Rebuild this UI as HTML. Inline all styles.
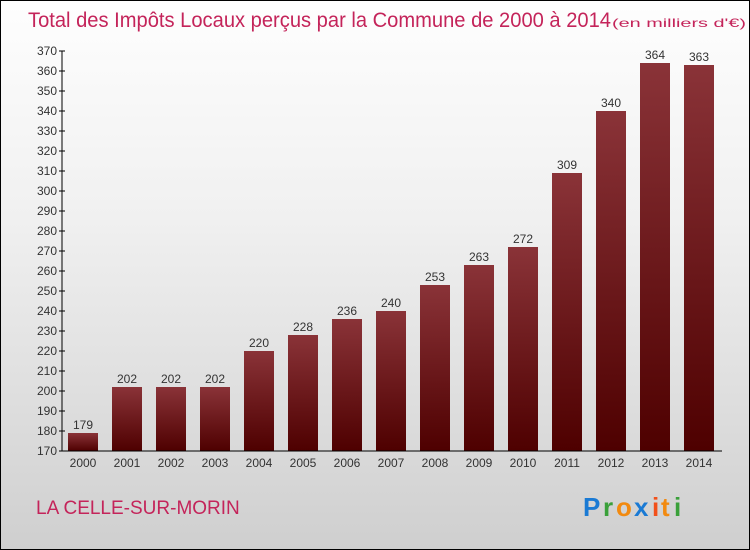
<!DOCTYPE html>
<html><head><meta charset="utf-8"><style>
body{margin:0}
#c{position:relative;width:748px;height:548px;border:1px solid #000;background:linear-gradient(#fefefe,#f0f0f0 40%,#cfcfcf);font-family:"Liberation Sans",sans-serif;overflow:hidden}
</style></head><body>
<div id="c">
<svg width="748" height="548">
<defs><linearGradient id="g" x1="0" y1="0" x2="0" y2="1"><stop offset="0" stop-color="#8a3338"/><stop offset="1" stop-color="#4e0000"/></linearGradient></defs>
<text x="27" y="26" font-size="21" fill="#c4245a" textLength="583" lengthAdjust="spacingAndGlyphs">Total des Impôts Locaux perçus par la Commune de 2000 à 2014</text>
<text x="611" y="26" font-size="12" fill="#c4245a" textLength="134" lengthAdjust="spacingAndGlyphs">(en milliers d'€)</text>
<g id="plot"></g>
<text x="35" y="513" font-size="19" fill="#c4245a">LA CELLE-SUR-MORIN</text>
<g font-size="26" font-weight="bold">
<text x="582" y="515" fill="#1a7ad4">P</text><text x="602" y="515" fill="#3aa03a">r</text><text x="615" y="515" fill="#f28a10">o</text><text x="633" y="515" fill="#1a7ad4">x</text><text x="651" y="515" fill="#f2501a">i</text><text x="660" y="515" fill="#f28a10">t</text><text x="673" y="515" fill="#3aa03a">i</text></g>
</svg></div>
<script>
const years=["2000","2001","2002","2003","2004","2005","2006","2007","2008","2009","2010","2011","2012","2013","2014"];
const values=[179,202,202,202,220,228,236,240,253,263,272,309,340,364,363];
const yTicks=[170,180,190,200,210,220,230,240,250,260,270,280,290,300,310,320,330,340,350,360,370];
const NS="http://www.w3.org/2000/svg";
const p=document.getElementById('plot');
const y=v=>450-(v-170)*2;
const x=i=>82+i*44;
function mk(t,a){const e=document.createElementNS(NS,t);for(const k in a)e.setAttribute(k,a[k]);p.appendChild(e);return e;}
values.forEach((v,i)=>{
const r=mk('rect',{x:x(i)-15,y:y(v),width:30,height:450-y(v),fill:'url(#g)'});


const t=mk('text',{x:x(i),y:y(v)-4,'font-size':12,fill:'#333','text-anchor':'middle'});t.textContent=v;


const l=mk('text',{x:x(i),y:466,'font-size':12,fill:'#333','text-anchor':'middle'});l.textContent=years[i];


});
yTicks.forEach(v=>{
mk('line',{x1:58,x2:64,y1:y(v),y2:y(v),stroke:'#000'});
const t=mk('text',{x:56,y:y(v)+4,'font-size':12,fill:'#333','text-anchor':'end'});t.textContent=v;


});
const ya=mk('line',{x1:61,x2:61,y1:y(370),y2:450,stroke:'#000'});


const xa=mk('line',{x1:61,x2:721,y1:450,y2:450,stroke:'#000'});


</script>
</body></html>
